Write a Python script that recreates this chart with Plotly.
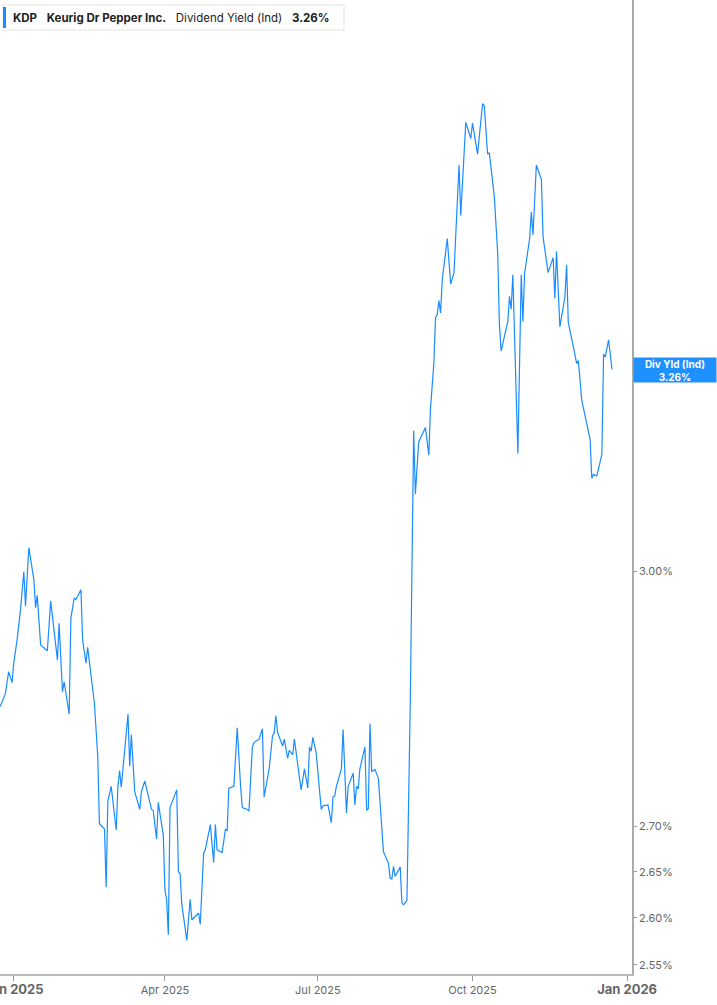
import math

import plotly.graph_objects as go

# dividend yield (%), log scale
dates = [
    "2024-12-24", "2024-12-27", "2024-12-29", "2024-12-31",
    "2025-01-01", "2025-01-03", "2025-01-05", "2025-01-07", "2025-01-08", "2025-01-10",
    "2025-01-13", "2025-01-14", "2025-01-15", "2025-01-17", "2025-01-21", "2025-01-23",
    "2025-01-27", "2025-01-28", "2025-01-30", "2025-01-31",
    "2025-02-03", "2025-02-04", "2025-02-06", "2025-02-07", "2025-02-10", "2025-02-11",
    "2025-02-13", "2025-02-14", "2025-02-18", "2025-02-20", "2025-02-21", "2025-02-24",
    "2025-02-25", "2025-02-26", "2025-02-28",
    "2025-03-03", "2025-03-04", "2025-03-05", "2025-03-06", "2025-03-10", "2025-03-11",
    "2025-03-12", "2025-03-14", "2025-03-17", "2025-03-18", "2025-03-20", "2025-03-24",
    "2025-03-25", "2025-03-27", "2025-03-28", "2025-03-31",
    "2025-04-01", "2025-04-02", "2025-04-03", "2025-04-04", "2025-04-08", "2025-04-09",
    "2025-04-10", "2025-04-11", "2025-04-14", "2025-04-16", "2025-04-17", "2025-04-21",
    "2025-04-22", "2025-04-24", "2025-04-25", "2025-04-28", "2025-04-30",
    "2025-05-01", "2025-05-02", "2025-05-05", "2025-05-07", "2025-05-08", "2025-05-09",
    "2025-05-12", "2025-05-14", "2025-05-16", "2025-05-17", "2025-05-20", "2025-05-21",
    "2025-05-23", "2025-05-24", "2025-05-27", "2025-05-29", "2025-05-30",
    "2025-06-02", "2025-06-04", "2025-06-05", "2025-06-06", "2025-06-07", "2025-06-10",
    "2025-06-11", "2025-06-13", "2025-06-14", "2025-06-16", "2025-06-17", "2025-06-21",
    "2025-06-23", "2025-06-25", "2025-06-26", "2025-06-27", "2025-06-28", "2025-06-30",
    "2025-07-02", "2025-07-03", "2025-07-04", "2025-07-07", "2025-07-09", "2025-07-10",
    "2025-07-11", "2025-07-12", "2025-07-15", "2025-07-16", "2025-07-18", "2025-07-19",
    "2025-07-22", "2025-07-23", "2025-07-24", "2025-07-25", "2025-07-26", "2025-07-29",
    "2025-07-30", "2025-07-31",
    "2025-08-01", "2025-08-02", "2025-08-04", "2025-08-06", "2025-08-09", "2025-08-12",
    "2025-08-13", "2025-08-14", "2025-08-15", "2025-08-16", "2025-08-19", "2025-08-20",
    "2025-08-21", "2025-08-23", "2025-08-25", "2025-08-27", "2025-08-28", "2025-08-30",
    "2025-09-03", "2025-09-05", "2025-09-06", "2025-09-08", "2025-09-09", "2025-09-10",
    "2025-09-11", "2025-09-12", "2025-09-13", "2025-09-16", "2025-09-18", "2025-09-20",
    "2025-09-23", "2025-09-24", "2025-09-27", "2025-09-30",
    "2025-10-01", "2025-10-04", "2025-10-07", "2025-10-08", "2025-10-10", "2025-10-11",
    "2025-10-14", "2025-10-16", "2025-10-17", "2025-10-18", "2025-10-22", "2025-10-23",
    "2025-10-24", "2025-10-25", "2025-10-28", "2025-10-30", "2025-10-31",
    "2025-11-01", "2025-11-04", "2025-11-05", "2025-11-06", "2025-11-08", "2025-11-11",
    "2025-11-12", "2025-11-15", "2025-11-18", "2025-11-19", "2025-11-20", "2025-11-22",
    "2025-11-25", "2025-11-26", "2025-11-27", "2025-11-30",
    "2025-12-02", "2025-12-03", "2025-12-05", "2025-12-10", "2025-12-11", "2025-12-12",
    "2025-12-14", "2025-12-17", "2025-12-18", "2025-12-19", "2025-12-21", "2025-12-23",
]

div_yield = [
    2.837, 2.852, 2.878, 2.865,
    2.888, 2.916, 2.952, 2.999, 2.957, 3.029,
    2.989, 2.955, 2.970, 2.910, 2.903, 2.963,
    2.892, 2.936, 2.854, 2.866,
    2.828, 2.942, 2.967, 2.965, 2.977, 2.916,
    2.888, 2.907, 2.841, 2.779, 2.703, 2.697,
    2.633, 2.728, 2.745,
    2.696, 2.745, 2.763, 2.744, 2.828, 2.768,
    2.804, 2.739, 2.719, 2.739, 2.751, 2.719,
    2.718, 2.686, 2.727, 2.690,
    2.630, 2.619, 2.582, 2.721, 2.741, 2.650,
    2.648, 2.615, 2.576, 2.620, 2.598, 2.605,
    2.593, 2.670, 2.674, 2.702, 2.660,
    2.702, 2.674, 2.671, 2.697, 2.695, 2.743,
    2.745, 2.812, 2.745, 2.721, 2.719, 2.717,
    2.790, 2.795, 2.799, 2.811, 2.733,
    2.765, 2.803, 2.806, 2.826, 2.807, 2.791,
    2.799, 2.777, 2.786, 2.781, 2.799, 2.741,
    2.765, 2.743, 2.790, 2.785, 2.801, 2.783,
    2.739, 2.719, 2.723, 2.724, 2.704, 2.733,
    2.734, 2.745, 2.765, 2.810, 2.715, 2.745,
    2.760, 2.724, 2.745, 2.742, 2.765, 2.790,
    2.718, 2.720,
    2.817, 2.762, 2.764, 2.754, 2.672, 2.659,
    2.643, 2.642, 2.656, 2.645, 2.655, 2.616,
    2.614, 2.619, 2.845, 3.179, 3.097, 3.164,
    3.183, 3.147, 3.208, 3.268, 3.331, 3.334,
    3.354, 3.337, 3.383, 3.441, 3.377, 3.393,
    3.547, 3.474, 3.610, 3.586,
    3.609, 3.563, 3.638, 3.635, 3.563, 3.565,
    3.501, 3.420, 3.323, 3.285, 3.325, 3.360,
    3.342, 3.390, 3.149, 3.390, 3.325,
    3.392, 3.441, 3.479, 3.446, 3.547, 3.526,
    3.443, 3.393, 3.414, 3.357, 3.423, 3.318,
    3.359, 3.404, 3.324, 3.291,
    3.268, 3.272, 3.219, 3.167, 3.117, 3.122,
    3.120, 3.148, 3.281, 3.277, 3.300, 3.26,
]

x_tick_dates = ["2025-01-01", "2025-04-01", "2025-07-01", "2025-10-01", "2026-01-01"]
x_tick_labels = ["Jan 2025", "Apr 2025", "Jul 2025", "Oct 2025", "Jan 2026"]
y_tick_vals = [2.55, 2.60, 2.65, 2.70, 3.00]

ticker = "KDP"
company = "Keurig Dr Pepper Inc."
metric = "Dividend Yield (Ind)"

LINE_BLUE = "#1a8cff"
FONT = "Inter, Roboto, 'Noto Sans', sans-serif"


def x_tick_text(label):
    # year starts are bigger and bold
    if label.startswith("Jan"):
        return f"<span style='font-size:13px'><b>{label}</b></span>"
    return label


last = div_yield[-1]

fig = go.Figure()
fig.add_trace(go.Scatter(x=dates, y=div_yield,
                         mode="lines",
                         line=dict(color=LINE_BLUE, width=1.2),
                         hoverinfo="x+y",
                         showlegend=False))

fig.update_layout(
    width=717, height=1005,
    margin=dict(l=0, r=85, t=0, b=31),
    paper_bgcolor="white",
    plot_bgcolor="white",
    font=dict(family=FONT, size=11, color="#666666"),
    showlegend=False,
)

fig.update_xaxes(type="date",
                 range=["2024-12-23 20:00", "2026-01-03 22:00"],
                 tickvals=x_tick_dates,
                 ticktext=[x_tick_text(t) for t in x_tick_labels],
                 ticks="outside", ticklen=5, tickcolor="#999999",
                 ticklabeloverflow="allow", automargin=False,
                 showline=True, linecolor="#bbbbbb", linewidth=2,
                 showgrid=False, zeroline=False,
                 tickfont=dict(size=11, color="#666666"))

fig.update_yaxes(type="log",
                 range=[math.log10(2.5405), math.log10(3.7969)],
                 side="right",
                 tickvals=y_tick_vals,
                 ticktext=[f"{v:.2f}%" for v in y_tick_vals],
                 ticks="outside", ticklen=3, tickcolor="#999999",
                 automargin=False,
                 showline=True, linecolor="#aaaaaa", linewidth=1.5,
                 showgrid=False, zeroline=False,
                 tickfont=dict(size=11, color="#666666"))

# header box top-left: frame, blue marker bar, then the text
fig.add_shape(type="rect", xref="paper", yref="paper",
              xsizemode="pixel", ysizemode="pixel",
              xanchor=0, yanchor=1,
              x0=3, x1=344, y0=-5, y1=-30,
              fillcolor="white", line=dict(color="#e4e4e4", width=1),
              layer="above")
fig.add_shape(type="rect", xref="paper", yref="paper",
              xsizemode="pixel", ysizemode="pixel",
              xanchor=0, yanchor=1,
              x0=3, x1=6, y0=-7, y1=-28,
              fillcolor=LINE_BLUE, line=dict(width=0),
              layer="above")
sp = "\u00a0" * 3
fig.add_annotation(xref="paper", yref="paper", x=0, y=1,
                   xanchor="left", yanchor="middle", xshift=11, yshift=-17.5,
                   text=f"<b>{ticker}</b>{sp}<b>{company}</b>{sp}{metric}{sp}<b>{last:.2f}%</b>",
                   showarrow=False, align="left",
                   font=dict(family=FONT, size=11.5, color="#222222"))

# last value flag on the right axis
fig.add_annotation(xref="paper", yref="y", x=1, y=math.log10(last),
                   xanchor="left", yanchor="middle", xshift=1,
                   text=f"<b>Div Yld (Ind)</b><br><b>{last:.2f}%</b>",
                   showarrow=False, align="center",
                   width=82, height=24, borderpad=0,
                   font=dict(family=FONT, size=10, color="white"),
                   bgcolor="#1e90ff")

fig.write_html("out.html", config={"displayModeBar": False},
               post_script="document.body.style.margin = '0';")
